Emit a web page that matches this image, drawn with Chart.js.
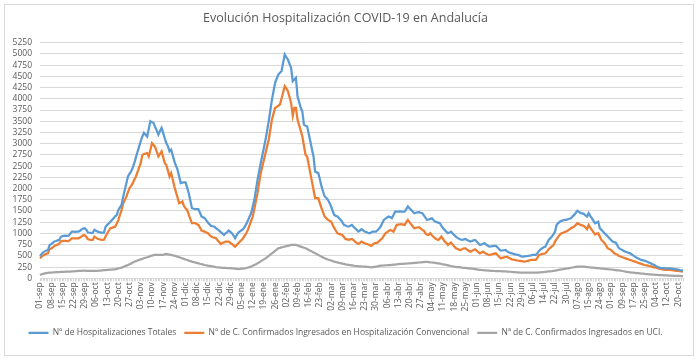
<!DOCTYPE html>
<html>
<head>
<meta charset="utf-8">
<script src="https://cdn.jsdelivr.net/npm/chart.js@4"></script>
<style>
  html, body { margin: 0; background: #fff; }
  #wrap { position: relative; width: 700px; height: 363px; }
  #frame { position: absolute; left: 4px; top: 4px; width: 688px; height: 350px; border: 1px solid #d9d9d9; pointer-events: none; }
</style>
</head>
<body>
<div id="wrap">
  <canvas id="myChart" width="700" height="363"></canvas>
  <div id="frame"></div>
</div>
<script>
// one tick label every 7 data points
const tickLabels = [
  "01-sep", "08-sep", "15-sep", "22-sep", "29-sep", "06-oct", "13-oct", "20-oct", "27-oct",
  "03-nov", "10-nov", "17-nov", "24-nov", "01-dic", "08-dic", "15-dic", "22-dic", "29-dic",
  "05-ene", "12-ene", "19-ene", "26-ene", "02-feb", "09-feb", "16-feb", "23-feb",
  "02-mar", "09-mar", "16-mar", "23-mar", "30-mar", "06-abr", "13-abr", "20-abr", "27-abr",
  "04-may", "11-may", "18-may", "25-may", "01-jun", "08-jun", "15-jun", "22-jun", "29-jun",
  "06-jul", "14-jul", "22-jul", "30-jul", "07-ago", "15-ago", "24-ago",
  "01-sep", "09-sep", "17-sep", "25-sep", "04-oct", "12-oct", "20-oct"
];

const seriesNames = [
  "Nº de Hospitalizaciones Totales",
  "Nº de C. Confirmados Ingresados en Hospitalización Convencional",
  "Nª de C. Confirmados Ingresados en UCI."
];

// one row per week
const hospTotales = [
  490, 540, 580, 600, 620, 630, 740,
  760, 790, 820, 830, 845, 855, 920,
  940, 945, 950, 948, 950, 1000, 1040,
  1040, 1035, 1040, 1040, 1060, 1090, 1110,
  1115, 1080, 1020, 1015, 1010, 1010, 1080,
  1060, 1040, 1030, 1020, 1020, 1020, 1150,
  1190, 1220, 1260, 1300, 1340, 1380, 1410,
  1525, 1580, 1640, 1820, 1970, 2120, 2270,
  2330, 2380, 2470, 2570, 2700, 2820, 2940,
  3060, 3160, 3240, 3200, 3160, 3330, 3500,
  3480, 3460, 3370, 3290, 3200, 3280, 3350,
  3240, 3120, 3010, 2940, 2830, 2866, 2740,
  2605, 2510, 2419, 2270, 2121, 2130, 2136,
  2136, 2020, 1897, 1730, 1562, 1550, 1540,
  1540, 1540, 1460, 1376, 1360, 1339, 1290,
  1242, 1200, 1168, 1160, 1153, 1120, 1093,
  1060, 1030, 1000, 967, 1000, 1030, 1063,
  1035, 1004, 950, 892, 960, 1019, 1045,
  1070, 1093, 1150, 1212, 1290, 1370, 1451,
  1600, 1749, 1970, 2195, 2380, 2568, 2740,
  2910, 3089, 3290, 3499, 3740, 3982, 4170,
  4355, 4450, 4541, 4580, 4615, 4800, 4988,
  4930, 4876, 4780, 4690, 4392, 4430, 4466,
  4057, 3930, 3800, 3722, 3424, 3400, 3387,
  3220, 3052, 2880, 2716, 2381, 2360, 2344,
  2200, 2047, 1930, 1823, 1790, 1749, 1680,
  1600, 1500, 1413, 1390, 1376, 1340, 1302,
  1250, 1190, 1175, 1160, 1153, 1170, 1190,
  1150, 1116, 1080, 1041, 1065, 1093, 1070,
  1041, 1030, 1015, 1004, 1020, 1041, 1041,
  1041, 1070, 1110, 1153, 1230, 1302, 1330,
  1355, 1376, 1360, 1339, 1410, 1488, 1488,
  1488, 1490, 1488, 1488, 1488, 1540, 1600,
  1560, 1525, 1490, 1451, 1460, 1470, 1473,
  1460, 1451, 1400, 1350, 1302, 1310, 1325,
  1339, 1300, 1264, 1250, 1240, 1227, 1170,
  1116, 1080, 1040, 1004, 1020, 1041, 1000,
  960, 929, 900, 880, 865, 855, 866,
  877, 855, 835, 818, 830, 845, 855,
  820, 780, 743, 755, 770, 780, 750,
  725, 706, 710, 715, 720, 721, 690,
  650, 616, 620, 625, 631, 600, 580,
  565, 557, 545, 535, 528, 520, 505,
  490, 482, 488, 493, 497, 505, 512,
  520, 520, 520, 560, 610, 646, 670,
  690, 706, 780, 855, 890, 929, 980,
  1041, 1190, 1230, 1264, 1280, 1290, 1302,
  1302, 1315, 1328, 1339, 1380, 1413, 1460,
  1503, 1480, 1451, 1445, 1436, 1400, 1376,
  1451, 1390, 1339, 1280, 1227, 1245, 1264,
  1116, 1080, 1041, 1000, 967, 930, 892,
  855, 818, 805, 795, 730, 669, 650,
  630, 610, 594, 580, 565, 557, 530,
  505, 482, 460, 440, 423, 410, 400,
  393, 378, 363, 348, 330, 312, 296,
  275, 255, 237, 232, 228, 225, 222,
  222, 222, 222, 217, 212, 207, 200,
  193, 185, 178, 170
];

const hospConvencional = [
  445, 480, 510, 530, 545, 560, 646,
  665, 690, 720, 735, 750, 765, 820,
  833, 835, 833, 830, 833, 860, 892,
  892, 888, 890, 892, 910, 935, 955,
  960, 920, 870, 862, 858, 855, 930,
  905, 880, 870, 860, 855, 860, 930,
  1000, 1060, 1115, 1125, 1140, 1150, 1220,
  1300, 1410, 1525, 1674, 1740, 1820, 1920,
  2010, 2060, 2120, 2200, 2270, 2370, 2470,
  2570, 2750, 2770, 2780, 2790, 2716, 2860,
  3010, 2970, 2925, 2820, 2716, 2770, 2830,
  2700, 2570, 2520, 2400, 2270, 2344, 2200,
  2047, 1920, 1800, 1674, 1690, 1711, 1610,
  1560, 1525, 1420, 1320, 1227, 1227, 1227,
  1210, 1190, 1130, 1063, 1050, 1041, 1020,
  1004, 965, 929, 915, 905, 892, 850,
  810, 765, 785, 800, 818, 818, 818,
  790, 765, 735, 706, 745, 780, 820,
  855, 892, 950, 1010, 1078, 1180, 1280,
  1376, 1550, 1720, 1897, 2120, 2344, 2490,
  2640, 2791, 2940, 3089, 3310, 3536, 3670,
  3796, 3820, 3845, 3871, 4000, 4140, 4280,
  4230, 4169, 4040, 3908, 3625, 3796, 3796,
  3536, 3410, 3290, 3164, 2960, 2754, 2716,
  2530, 2344, 2160, 1972, 1786, 1786, 1786,
  1670, 1562, 1470, 1376, 1340, 1302, 1283,
  1264, 1190, 1116, 1060, 1004, 990, 978,
  967, 920, 877, 866, 855, 866, 877,
  848, 818, 790, 765, 790, 818, 800,
  780, 770, 758, 740, 721, 750, 780,
  788, 795, 830, 860, 892, 950, 1004,
  1030, 1055, 1078, 1060, 1041, 1115, 1190,
  1195, 1200, 1205, 1198, 1190, 1250, 1302,
  1250, 1205, 1160, 1116, 1125, 1132, 1138,
  1110, 1078, 1060, 1000, 970, 967, 1004,
  960, 925, 892, 870, 855, 890, 929,
  880, 820, 790, 743, 770, 795, 750,
  710, 669, 655, 640, 631, 650, 669,
  669, 640, 615, 594, 610, 630, 646,
  615, 585, 557, 575, 594, 570, 545,
  530, 520, 530, 540, 550, 557, 520,
  480, 445, 455, 465, 475, 482, 460,
  440, 423, 415, 408, 400, 393, 388,
  382, 376, 371, 380, 390, 400, 408,
  408, 408, 408, 460, 520, 530, 545,
  550, 557, 600, 646, 680, 710, 743,
  818, 870, 929, 970, 1004, 1015, 1030,
  1041, 1065, 1090, 1116, 1135, 1153, 1190,
  1227, 1210, 1190, 1180, 1168, 1130, 1093,
  1190, 1130, 1078, 1030, 981, 995, 1004,
  930, 855, 820, 780, 725, 669, 650,
  631, 595, 557, 540, 525, 497, 485,
  470, 458, 445, 432, 420, 408, 396,
  384, 371, 358, 345, 333, 320, 308,
  296, 289, 282, 274, 264, 254, 244,
  235, 226, 217, 207, 200, 192, 185,
  185, 185, 185, 180, 175, 170, 168,
  165, 162, 155, 148
];

const uci = [
  73, 90, 100, 110, 115, 120, 125,
  128, 130, 133, 135, 137, 139, 141,
  143, 145, 146, 147, 148, 150, 153,
  156, 158, 160, 163, 166, 168, 170,
  170, 168, 165, 164, 163, 163, 163,
  165, 168, 170, 172, 177, 180, 183,
  186, 189, 192, 195, 198, 200, 210,
  220, 229, 237, 252, 267, 282, 296,
  314, 332, 350, 370, 383, 396, 410,
  423, 434, 446, 457, 468, 481, 494,
  507, 515, 520, 522, 522, 520, 520,
  524, 535, 542, 535, 527, 520, 512,
  505, 493, 482, 470, 458, 445, 433,
  420, 408, 395, 383, 371, 362, 353,
  343, 334, 324, 315, 306, 296, 290,
  283, 277, 270, 264, 257, 250, 244,
  241, 238, 235, 232, 230, 228, 226,
  224, 222, 219, 215, 211, 207, 210,
  214, 218, 222, 230, 240, 250, 259,
  277, 296, 315, 333, 355, 378, 400,
  422, 445, 473, 501, 529, 557, 585,
  613, 641, 669, 678, 688, 697, 706,
  715, 724, 733, 743, 743, 743, 743,
  731, 718, 706, 694, 682, 669, 651,
  632, 614, 595, 576, 557, 539, 520,
  502, 483, 464, 445, 433, 420, 408,
  396, 383, 371, 362, 354, 345, 337,
  328, 320, 311, 305, 299, 293, 287,
  281, 274, 272, 269, 267, 264, 262,
  259, 255, 252, 248, 244, 250, 256,
  262, 268, 275, 281, 284, 286, 289,
  291, 294, 296, 300, 304, 307, 311,
  315, 319, 321, 323, 326, 328, 330,
  333, 336, 339, 343, 346, 349, 352,
  356, 358, 362, 367, 364, 360, 356,
  352, 348, 343, 338, 333, 326, 319,
  312, 305, 297, 290, 282, 274, 267,
  259, 255, 251, 247, 243, 238, 234,
  230, 226, 222, 218, 213, 209, 204,
  199, 194, 190, 185, 182, 179, 176,
  173, 170, 167, 165, 163, 162, 160,
  159, 158, 156, 154, 152, 150, 148,
  146, 143, 140, 137, 134, 131, 128,
  125, 125, 125, 125, 125, 125, 125,
  125, 125, 126, 128, 131, 134, 137,
  140, 144, 148, 152, 156, 160, 165,
  170, 178, 185, 191, 197, 203, 210,
  216, 222, 229, 235, 241, 247, 253,
  259, 259, 259, 259, 259, 255, 251,
  247, 244, 240, 237, 233, 229, 226,
  222, 218, 214, 211, 207, 203, 200,
  196, 191, 187, 183, 178, 174, 170,
  163, 157, 150, 144, 137, 133, 129,
  125, 121, 117, 114, 110, 106, 103,
  99, 95, 92, 88, 86, 83, 81,
  78, 76, 73, 71, 69, 67, 65,
  63, 61, 58, 57, 56, 55, 54,
  53, 52, 51, 50
];

const categories = hospTotales.map((v, i) => (i % 7 === 0 ? tickLabels[i / 7] : ""));

const textColor = "#595959";
const gridColor = "#d9d9d9";
const font = "'Open Sans', 'Noto Sans', sans-serif";

function line(label, data, color) {
  return {
    label,
    data,
    borderColor: color,
    backgroundColor: color,
    borderWidth: 2.25,
    pointRadius: 0,
    tension: 0,
  };
}

const config = {
  type: "line",
  data: {
    labels: categories,
    datasets: [
      line(seriesNames[0], hospTotales, "#5b9bd5"),
      line(seriesNames[1], hospConvencional, "#ed7d31"),
      line(seriesNames[2], uci, "#a5a5a5"),
    ],
  },
  options: {
    responsive: false,
    animation: false,
    layout: { padding: { left: 8, right: 17, top: 0, bottom: 16 } },
    scales: {
      x: {
        afterFit: (s) => { s.height = 42.2; },
        grid: { display: true, drawOnChartArea: false, tickLength: 3, color: gridColor },
        border: { display: true, color: gridColor },
        ticks: {
          autoSkip: false,
          maxRotation: 90,
          minRotation: 90,
          padding: 1,
          color: textColor,
          font: { family: font, size: 8.5 },
        },
      },
      y: {
        min: 0,
        max: 5250,
        afterFit: (s) => { s.width = 32; },
        border: { display: false },
        grid: { color: gridColor, drawTicks: false },
        ticks: {
          stepSize: 250,
          autoSkip: false,
          padding: 8,
          color: textColor,
          font: { family: font, size: 8.5 },
          callback: (v) => String(v),
        },
      },
    },
    plugins: {
      title: {
        display: true,
        text: "Evolución Hospitalización COVID-19 en Andalucía",
        color: textColor,
        font: { family: font, size: 12.5, weight: "normal" },
        padding: { top: 11, bottom: 16.7 },
      },
      legend: {
        position: "bottom",
        labels: {
          usePointStyle: true,
          pointStyle: "line",
          pointStyleWidth: 20,
          padding: 8,
          color: textColor,
          font: { family: font, size: 8.5 },
        },
      },
      tooltip: { enabled: false },
    },
  },
};

new Chart(document.getElementById("myChart"), config);
</script>
</body>
</html>
